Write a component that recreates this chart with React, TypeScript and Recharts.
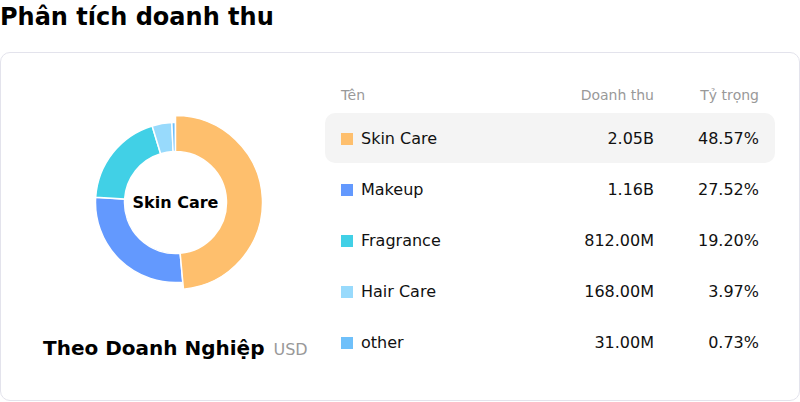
import { PieChart, Pie, Cell, Label } from "recharts";

const categories = ["Skin Care", "Makeup", "Fragrance", "Hair Care", "other"];
const revenue = [2050, 1162, 812, 168, 31]; // millions USD
const revenueLabels = ["2.05B", "1.16B", "812.00M", "168.00M", "31.00M"];
const shareLabels = ["48.57%", "27.52%", "19.20%", "3.97%", "0.73%"];

const COLORS = ["#FEBF6D", "#6399FE", "#41D0E6", "#98DAFC", "#6FC0FA"];
const FONT = '"DejaVu Sans", sans-serif';

const chartData = categories.map((name, i) => ({ name, value: revenue[i] }));

export default function App() {
  return (
    <div style={{ position: "relative", width: 800, height: 402, fontFamily: FONT, overflow: "hidden" }}>
      <style>{`body{margin:0}`}</style>
      <div
        style={{
          position: "absolute",
          left: 0,
          top: 5,
          fontSize: 24,
          lineHeight: "24px",
          fontWeight: "bold",
          color: "#000",
          whiteSpace: "nowrap",
        }}
      >
        Phân tích doanh thu
      </div>

      <div
        style={{
          position: "absolute",
          left: 0,
          top: 52,
          width: 800,
          height: 349,
          boxSizing: "border-box",
          border: "1px solid #E3E3EC",
          borderRadius: 10,
          background: "#fff",
        }}
      />

      <div style={{ position: "absolute", left: 0, top: 52 }}>
        <PieChart width={351} height={301}>
          <Pie
            data={chartData}
            dataKey="value"
            nameKey="name"
            cx="50%"
            cy="50%"
            innerRadius={51}
            outerRadius={80}
            startAngle={90}
            endAngle={-270}
            stroke="#fff"
            strokeWidth={1.5}
            isAnimationActive={false}
          >
            {chartData.map((entry, index) => (
              <Cell key={`cell-${index}`} fill={COLORS[index]} />
            ))}
          </Pie>
          {/* active slice drawn a bit larger */}
          <Pie
            data={chartData}
            dataKey="value"
            nameKey="name"
            cx="50%"
            cy="50%"
            innerRadius={51}
            outerRadius={87}
            startAngle={90}
            endAngle={-270}
            isAnimationActive={false}
          >
            {chartData.map((entry, index) => (
              <Cell
                key={`active-${index}`}
                fill={index === 0 ? COLORS[0] : "transparent"}
                stroke={index === 0 ? "#fff" : "none"}
                strokeWidth={1.5}
              />
            ))}
            <Label
              value={categories[0]}
              position="center"
              fontFamily={FONT}
              fontSize={16}
              fontWeight="bold"
              fill="#000"
            />
          </Pie>
        </PieChart>
      </div>

      <div
        style={{
          position: "absolute",
          left: 43,
          top: 336,
          whiteSpace: "nowrap",
          display: "flex",
          alignItems: "baseline",
        }}
      >
        <span style={{ fontSize: 20, fontWeight: "bold", color: "#000" }}>Theo Doanh Nghiệp</span>
        <span style={{ fontSize: 16, color: "#999", marginLeft: 9 }}>USD</span>
      </div>

      {/* table header */}
      <div style={{ position: "absolute", left: 325, top: 80, width: 450, height: 30, fontSize: 14, color: "#999" }}>
        <div style={{ position: "absolute", left: 16, top: 0, lineHeight: "30px" }}>Tên</div>
        <div style={{ position: "absolute", right: 121, top: 0, lineHeight: "30px" }}>Doanh thu</div>
        <div style={{ position: "absolute", right: 16, top: 0, lineHeight: "30px" }}>Tỷ trọng</div>
      </div>

      {categories.map((name, i) => (
        <div
          key={name}
          style={{
            position: "absolute",
            left: 325,
            top: 113 + i * 51,
            width: 450,
            height: 50,
            borderRadius: 10,
            background: i === 0 ? "#F4F4F4" : "transparent",
            fontSize: 16,
            color: "#111",
          }}
        >
          <div
            style={{
              position: "absolute",
              left: 16,
              top: 20,
              width: 12,
              height: 12,
              background: COLORS[i],
            }}
          />
          <div style={{ position: "absolute", left: 36, top: 1, lineHeight: "50px" }}>{name}</div>
          <div style={{ position: "absolute", right: 121, top: 1, lineHeight: "50px" }}>{revenueLabels[i]}</div>
          <div style={{ position: "absolute", right: 16, top: 1, lineHeight: "50px" }}>{shareLabels[i]}</div>
        </div>
      ))}
    </div>
  );
}
